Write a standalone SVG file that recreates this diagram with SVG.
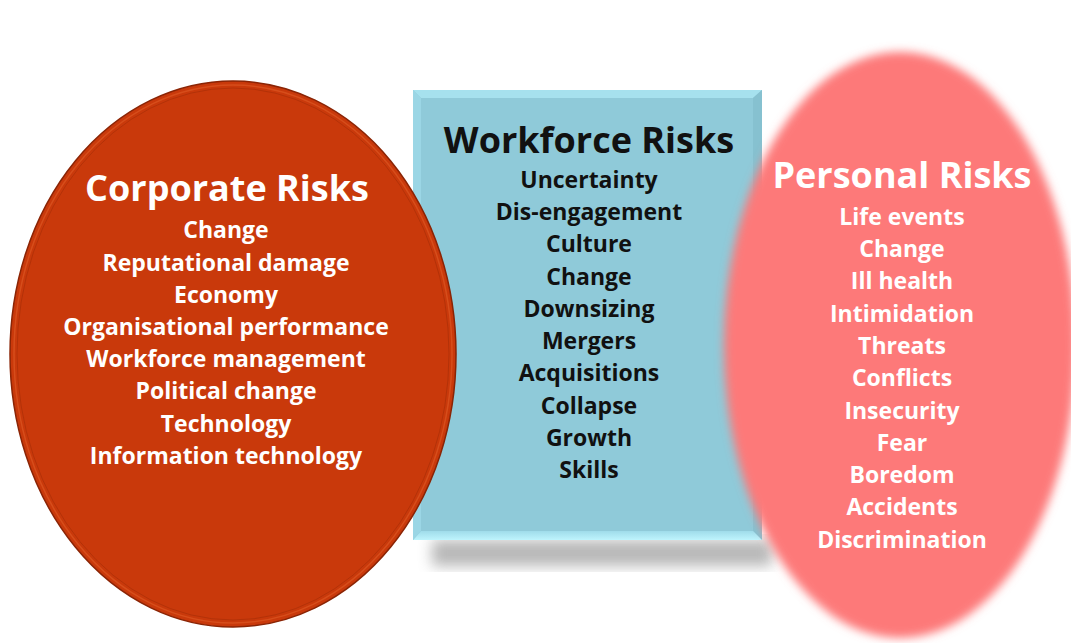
<svg xmlns="http://www.w3.org/2000/svg" width="1071" height="643" viewBox="0 0 1071 643">
  <defs>
    <filter id="soft" x="-20%" y="-20%" width="140%" height="140%">
      <feGaussianBlur stdDeviation="5"/>
    </filter>
    <filter id="shadow" x="-20%" y="-20%" width="140%" height="140%">
      <feGaussianBlur stdDeviation="7"/>
    </filter>
    <linearGradient id="bevelBottom" x1="0" y1="0" x2="0" y2="1">
      <stop offset="0" stop-color="#9fdcea"/>
      <stop offset="1" stop-color="#bff4fd"/>
    </linearGradient>
  </defs>
  <style>
    text { font-family: "Open Sans", "Liberation Sans", sans-serif; font-weight: bold; text-anchor: middle; }
    .title { font-size: 36px; }
    .item { font-size: 23px; }
    .light { fill: #ffffff; }
    .dark { fill: #111111; }
  </style>

  <rect width="1071" height="643" fill="#ffffff"/>

  <!-- Workforce box: drop shadow, face, bevelled edges -->
  <g id="workforce">
    <rect x="432" y="540" width="340" height="26" fill="#9a9a9a" opacity="0.7" filter="url(#shadow)"/>
    <rect x="413" y="90" width="349" height="450" fill="#8fcad9"/>
    <polygon points="413,90 762,90 753,98 421,98" fill="#a6e1ee"/>
    <polygon points="762,90 762,540 753,531 753,98" fill="#86c1d0"/>
    <polygon points="413,540 762,540 753,531 421,531" fill="url(#bevelBottom)"/>
    <polygon points="413,90 421,98 421,531 413,540" fill="#9bd6e5"/>
    <text class="title dark" x="589" y="153">Workforce Risks</text>
    <text class="item dark" x="589" y="188">Uncertainty</text>
    <text class="item dark" x="589" y="220">Dis-engagement</text>
    <text class="item dark" x="589" y="252">Culture</text>
    <text class="item dark" x="589" y="285">Change</text>
    <text class="item dark" x="589" y="317">Downsizing</text>
    <text class="item dark" x="589" y="349">Mergers</text>
    <text class="item dark" x="589" y="381">Acquisitions</text>
    <text class="item dark" x="589" y="414">Collapse</text>
    <text class="item dark" x="589" y="446">Growth</text>
    <text class="item dark" x="589" y="478">Skills</text>
  </g>

  <!-- Personal risks: soft-edged ellipse -->
  <g id="personal">
    <ellipse cx="900" cy="345" rx="176" ry="293" fill="#fd7979" filter="url(#soft)"/>
    <text class="title light" x="902" y="188">Personal Risks</text>
    <text class="item light" x="902" y="225">Life events</text>
    <text class="item light" x="902" y="257">Change</text>
    <text class="item light" x="902" y="289">Ill health</text>
    <text class="item light" x="902" y="322">Intimidation</text>
    <text class="item light" x="902" y="354">Threats</text>
    <text class="item light" x="902" y="386">Conflicts</text>
    <text class="item light" x="902" y="419">Insecurity</text>
    <text class="item light" x="902" y="451">Fear</text>
    <text class="item light" x="902" y="483">Boredom</text>
    <text class="item light" x="902" y="515">Accidents</text>
    <text class="item light" x="902" y="548">Discrimination</text>
  </g>

  <!-- Corporate risks: ellipse with a double rim -->
  <g id="corporate">
    <ellipse cx="233" cy="354" rx="223" ry="273" fill="#c9390b" stroke="#8a2405" stroke-width="1.5"/>
    <ellipse cx="233" cy="354" rx="219" ry="269" fill="none" stroke="#d9531f" stroke-width="1.5" opacity="0.8"/>
    <ellipse cx="233" cy="354" rx="216" ry="266" fill="none" stroke="#a52d07" stroke-width="1" opacity="0.6"/>
    <text class="title light" x="227" y="201">Corporate Risks</text>
    <text class="item light" x="226" y="238">Change</text>
    <text class="item light" x="226" y="271">Reputational damage</text>
    <text class="item light" x="226" y="303">Economy</text>
    <text class="item light" x="226" y="335">Organisational performance</text>
    <text class="item light" x="226" y="367">Workforce management</text>
    <text class="item light" x="226" y="399">Political change</text>
    <text class="item light" x="226" y="432">Technology</text>
    <text class="item light" x="226" y="464">Information technology</text>
  </g>

  <g id="connectors"/>
</svg>
